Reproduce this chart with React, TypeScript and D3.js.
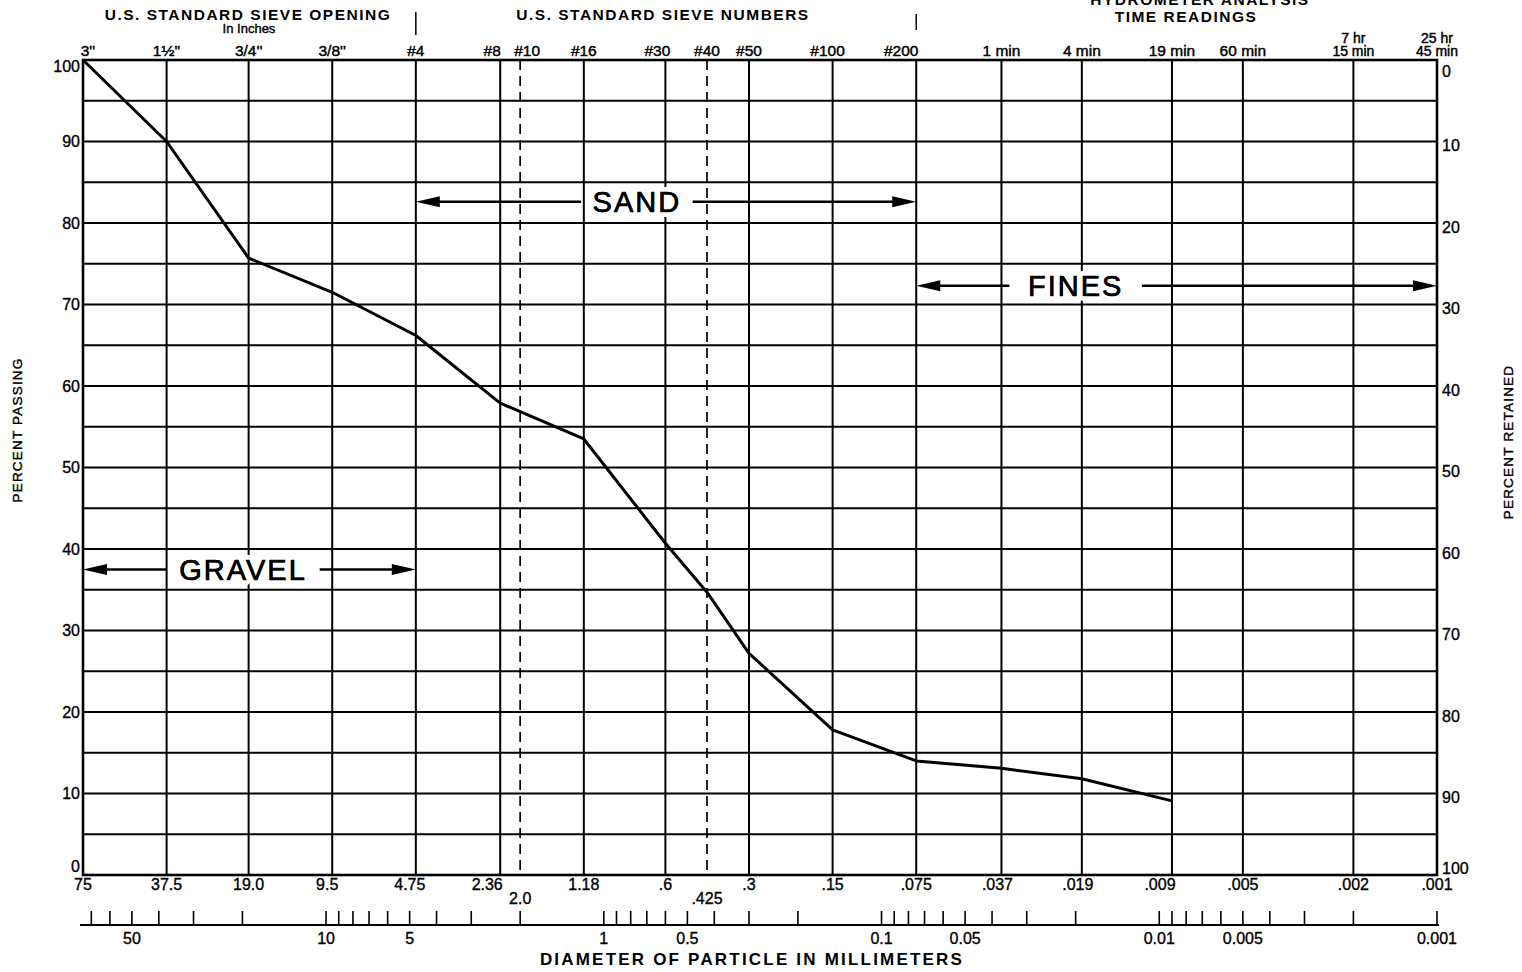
import * as React from 'react';
import * as d3 from 'd3';

// sieve / hydrometer grid positions (mm)
const sieveSizes = [75, 37.5, 19.0, 9.5, 4.75, 2.36, 2.0, 1.18, 0.6, 0.425, 0.3, 0.15, 0.075, 0.037, 0.019, 0.009, 0.005, 0.002, 0.001];
const sizeLabels = ['75', '37.5', '19.0', '9.5', '4.75', '2.36', '2.0', '1.18', '.6', '.425', '.3', '.15', '.075', '.037', '.019', '.009', '.005', '.002', '.001'];
const topLabels = [["3''"], ["1½''"], ["3/4''"], ["3/8''"], ['#4'], ['#8'], ['#10'], ['#16'], ['#30'], ['#40'], ['#50'], ['#100'], ['#200'], ['1 min'], ['4 min'], ['19 min'], ['60 min'], ['7 hr', '15 min'], ['25 hr', '45 min']];
const dashedSizes = [2.0, 0.425];
const groupBreaks = [4.75, 0.075];

// gradation curve
const sampleDiameters = [75, 37.5, 19.0, 9.5, 4.75, 2.36, 1.18, 0.6, 0.425, 0.3, 0.15, 0.075, 0.037, 0.019, 0.009];
const percentPassing = [100, 90, 75.7, 71.5, 66.2, 57.9, 53.5, 40.7, 34.7, 27.2, 17.8, 14.0, 13.1, 11.8, 9.1];

const percentTicks = [0, 10, 20, 30, 40, 50, 60, 70, 80, 90, 100];
const mmLabels = [50, 10, 5, 1, 0.5, 0.1, 0.05, 0.01, 0.005, 0.001];

const zoneNames = ['GRAVEL', 'SAND', 'FINES'];
const zoneFrom = [75, 4.75, 0.075];
const zoneTo = [4.75, 0.075, 0.001];
const zoneLevel = [37.5, 82.6, 72.3];
const zoneTextAt = [19.9, 0.76, 0.02];

const headerTexts = ['U.S. STANDARD SIEVE OPENING', 'In Inches', 'U.S. STANDARD SIEVE NUMBERS', 'HYDROMETER ANALYSIS', 'TIME READINGS'];

const W = 1522;
const H = 972;
const FONT = '"Liberation Sans", Arial, sans-serif';

// small label nudges where neighbours crowd
const topDx: Record<number, number> = { 5: -8, 6: 7, 8: -8, 11: -5, 12: -15 };
const bottomDx: Record<number, number> = { 3: -5, 4: -6, 5: -13, 13: -4, 14: -4, 15: -12 };

export default function App() {
  const x = d3.scaleLog().domain([75, 0.001]).range([83, 1437]);
  const y = d3.scaleLinear().domain([0, 100]).range([875, 60]);
  const [x0, x1] = x.range();
  const [yb, yt] = y.range();

  const curve = d3.line<number>()
    .x((_, i) => x(sampleDiameters[i]))
    .y(d => y(d));

  const gridPercents = d3.range(0, 101, 5);
  const mmTicks = x.ticks();
  const axisY = 925;

  return (
    <div style={{ position: 'absolute', left: 0, top: 0 }}>
      <svg width={W} height={H} style={{ display: 'block', background: '#fff' }} fontFamily={FONT}>
        {/* horizontal grid */}
        {gridPercents.map(p => (
          <line key={'h' + p} x1={x0} x2={x1} y1={y(p)} y2={y(p)} stroke="#000" strokeWidth={1.8} />
        ))}
        {/* vertical grid */}
        {sieveSizes.map(s => (
          <line key={'v' + s} x1={x(s)} x2={x(s)} y1={yt} y2={yb} stroke="#000"
            strokeWidth={dashedSizes.includes(s) ? 1.7 : 2}
            strokeDasharray={dashedSizes.includes(s) ? '10 6' : undefined} />
        ))}
        {/* frame */}
        <rect x={x0} y={yt} width={x1 - x0} height={yb - yt} fill="none" stroke="#000" strokeWidth={2.6} />

        {/* header separators */}
        {groupBreaks.map((s, i) => (
          <line key={'g' + s} x1={x(s)} x2={x(s)} y1={i === 0 ? 12 : 14} y2={i === 0 ? 35 : 30} stroke="#000" strokeWidth={1.5} />
        ))}

        {/* headers */}
        <g fontWeight="bold" textAnchor="middle" fill="#000">
          <text x={248} y={20} fontSize={15.5} letterSpacing={1.5}>{headerTexts[0]}</text>
          <text x={249} y={33} fontSize={13} fontWeight="normal" stroke="#000" strokeWidth={0.4}>{headerTexts[1]}</text>
          <text x={663} y={20} fontSize={15.5} letterSpacing={1.5}>{headerTexts[2]}</text>
          <text x={1200} y={5} fontSize={15.5} letterSpacing={1.5}>{headerTexts[3]}</text>
          <text x={1186} y={22} fontSize={15.5} letterSpacing={1.5}>{headerTexts[4]}</text>
        </g>

        {/* top labels */}
        <g textAnchor="middle" fill="#000" stroke="#000" strokeWidth={0.45}>
          {sieveSizes.map((s, i) => {
            const lines = topLabels[i];
            const cx = x(s) + (topDx[i] || 0) + (i === 0 ? 5 : 0);
            return lines.map((t, j) => (
              <text key={'t' + i + j} x={cx} y={56 - (lines.length - 1 - j) * 13} fontSize={lines.length > 1 ? 14 : 15.5}>{t}</text>
            ));
          })}
        </g>

        {/* bottom size labels */}
        <g textAnchor="middle" fontSize={16} fill="#000" stroke="#000" strokeWidth={0.35}>
          {sieveSizes.map((s, i) => (
            <text key={'b' + i} x={x(s) + (bottomDx[i] || 0)} y={dashedSizes.includes(s) ? 904 : 890}>{sizeLabels[i]}</text>
          ))}
        </g>

        {/* left / right percent labels */}
        <g fontSize={16} fill="#000" stroke="#000" strokeWidth={0.35}>
          {percentTicks.map(p => {
            const cy = Math.min(Math.max(y(p), 66), 866);
            return (
              <text key={'l' + p} x={80} y={cy} dy="0.35em" textAnchor="end">{p}</text>
            );
          })}
          {percentTicks.map(p => {
            const cy = Math.min(Math.max(y(p) + 4, 71), 868);
            return (
              <text key={'r' + p} x={1442} y={cy} dy="0.35em" textAnchor="start">{100 - p}</text>
            );
          })}
        </g>

        {/* axis titles */}
        <text transform={`translate(22,430) rotate(-90)`} textAnchor="middle" fontSize={13.5} letterSpacing={1.2} fill="#000" stroke="#000" strokeWidth={0.4}>PERCENT PASSING</text>
        <text transform={`translate(1513,442) rotate(-90)`} textAnchor="middle" fontSize={13.5} letterSpacing={1.2} fill="#000" stroke="#000" strokeWidth={0.4}>PERCENT RETAINED</text>

        {/* millimetre scale */}
        <line x1={x(75) - 3} x2={x(0.001) + 2} y1={axisY} y2={axisY} stroke="#000" strokeWidth={2} />
        {mmTicks.map(t => (
          <line key={'m' + t} x1={x(t)} x2={x(t)} y1={axisY} y2={axisY - 14} stroke="#000" strokeWidth={1.6} />
        ))}
        <g textAnchor="middle" fontSize={16} fill="#000" stroke="#000" strokeWidth={0.35}>
          {mmLabels.map(t => (
            <text key={'ml' + t} x={x(t)} y={944}>{t}</text>
          ))}
        </g>
        <text x={752} y={965} textAnchor="middle" fontSize={17} fontWeight="bold" letterSpacing={2.2} fill="#000">DIAMETER OF PARTICLE IN MILLIMETERS</text>

        {/* gradation curve */}
        <path d={curve(percentPassing) || ''} fill="none" stroke="#000" strokeWidth={3} strokeLinejoin="round" />

        {/* soil zone arrows */}
        {zoneNames.map((name, i) => {
          const ya = y(zoneLevel[i]);
          const xa = x(zoneFrom[i]);
          const xb = x(zoneTo[i]);
          const xc = x(zoneTextAt[i]);
          const fs = 29;
          const half = (name.length * fs * 0.72) / 2 + 14;
          const ah = 24;
          const aw = 5.5;
          return (
            <g key={name}>
              <line x1={xa + ah - 2} x2={xc - half} y1={ya} y2={ya} stroke="#000" strokeWidth={2.5} />
              <line x1={xc + half} x2={xb - ah + 2} y1={ya} y2={ya} stroke="#000" strokeWidth={2.5} />
              <path d={`M${xa},${ya}L${xa + ah},${ya - aw}L${xa + ah},${ya + aw}Z`} fill="#000" />
              <path d={`M${xb},${ya}L${xb - ah},${ya - aw}L${xb - ah},${ya + aw}Z`} fill="#000" />
              <text x={xc} y={ya} dy="0.36em" textAnchor="middle" fontSize={fs} letterSpacing={2}
                fill="#000" stroke="#fff" strokeWidth={10} paintOrder="stroke" strokeLinejoin="round">{name}</text>
              <text x={xc} y={ya} dy="0.36em" textAnchor="middle" fontSize={fs} letterSpacing={2}
                fill="#000" stroke="#000" strokeWidth={0.6}>{name}</text>
            </g>
          );
        })}
      </svg>
    </div>
  );
}
